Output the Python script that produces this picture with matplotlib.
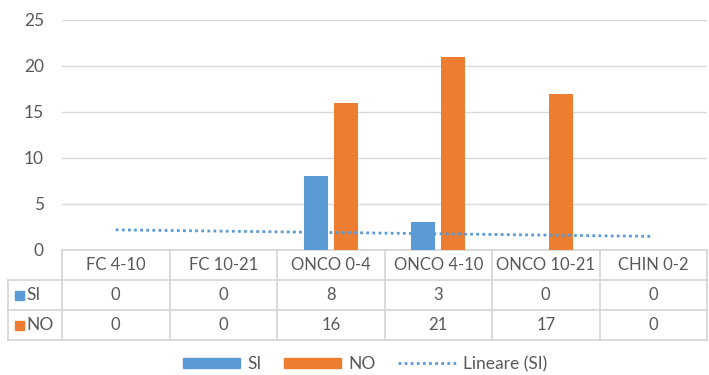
import matplotlib
matplotlib.use("Agg")
import matplotlib.pyplot as plt
import numpy as np
from matplotlib.patches import Patch, Rectangle
from matplotlib.lines import Line2D
import matplotlib.transforms as mtransforms

categories = ["FC 4-10", "FC 10-21", "ONCO 0-4", "ONCO 4-10", "ONCO 10-21", "CHIN 0-2"]
si_values = [0, 0, 8, 3, 0, 0]
no_values = [0, 0, 16, 21, 17, 0]
series_names = ["SI", "NO"]
trend_name = "Lineare (SI)"
y_ticks = [0, 5, 10, 15, 20, 25]

BLUE = "#5B9BD5"
ORANGE = "#ED7D31"
TXT = "#595959"
GRID = "#D9D9D9"
BORDER = "#D4D4D4"

plt.rcParams['font.family'] = ['Lato', 'DejaVu Sans']
plt.rcParams['font.size'] = 12

W, H = 709, 375
fig = plt.figure(figsize=(W / 100, H / 100), dpi=100)
left, right, top, bottom = 62, 707, 20, 250
ax = fig.add_axes([left / W, 1 - bottom / H, (right - left) / W, (bottom - top) / H])

x = np.arange(len(categories))
bw = 0.225
off = 0.14
ax.bar(x - off, si_values, bw, color=BLUE, zorder=3)
ax.bar(x + off, no_values, bw, color=ORANGE, zorder=3)

# linear trendline of SI
coef = np.polyfit(x, si_values, 1)
ax.plot(x, np.polyval(coef, x), linestyle=(0, (1, 1.2)), color=BLUE, lw=2, zorder=4)

ax.set_xlim(-0.5, len(categories) - 0.5)
ax.set_ylim(0, 25)
ax.set_yticks(y_ticks)
ax.set_xticks([])
ax.tick_params(axis='y', length=0, pad=13, labelcolor=TXT, labelsize=12.5)
for s in ax.spines.values():
    s.set_visible(False)
ax.yaxis.grid(True, color=GRID, lw=1, zorder=0)
ax.set_axisbelow(True)

# data table below the axes: x in data coords, y in axes fraction
trans = mtransforms.blended_transform_factory(ax.transData, ax.transAxes)
plot_h = bottom - top
row_h = 30 / plot_h
bottom_y = -3 * row_h
lab_left = -0.5 - 54 / ((right - left) / len(categories))
xr = len(categories) - 0.5

def hline(y, x0, x1):
    ax.add_line(Line2D([x0, x1], [y, y], transform=trans, color=BORDER, lw=1.2, clip_on=False))

def vline(xx, y0, y1):
    ax.add_line(Line2D([xx, xx], [y0, y1], transform=trans, color=BORDER, lw=1.2, clip_on=False))

hline(0, -0.5, xr)
hline(-row_h, lab_left, xr)
hline(-2 * row_h, lab_left, xr)
hline(bottom_y, lab_left, xr)
vline(lab_left, -row_h, bottom_y)
for i in range(len(categories) + 1):
    vline(i - 0.5, 0, bottom_y)

for i, c in enumerate(categories):
    ax.text(i, -0.5 * row_h, c, transform=trans, ha='center', va='center', color=TXT, fontsize=12, clip_on=False)
    ax.text(i, -1.5 * row_h, str(si_values[i]), transform=trans, ha='center', va='center', color=TXT, fontsize=12, clip_on=False)
    ax.text(i, -2.5 * row_h, str(no_values[i]), transform=trans, ha='center', va='center', color=TXT, fontsize=12, clip_on=False)

# row labels with colour keys
fig_tr = fig.transFigure
for k, (name, col) in enumerate(zip(series_names, [BLUE, ORANGE])):
    yc = 1 - (bottom + 30 * (k + 1) + 15) / H
    fig.patches.append(Rectangle((15 / W, yc - 4.5 / H), 9 / W, 9 / H, transform=fig_tr, color=col))
    fig.text(26 / W, yc, name, ha='left', va='center', color=TXT, fontsize=12.5)

handles = [Patch(color=BLUE, label=series_names[0]),
           Patch(color=ORANGE, label=series_names[1]),
           Line2D([], [], linestyle=(0, (1, 1.2)), color=BLUE, lw=2, label=trend_name)]
fig.legend(handles=handles, loc='center', bbox_to_anchor=(365 / W, 1 - 364 / H), ncol=3,
           frameon=False, handlelength=3.3, handleheight=0.55, columnspacing=1.3,
           handletextpad=0.4, labelcolor=TXT, fontsize=12.5)

fig.savefig("out.png", dpi=100, facecolor="white")
